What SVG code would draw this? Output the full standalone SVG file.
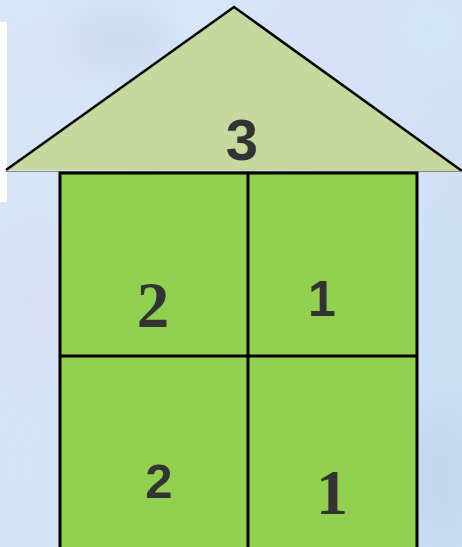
<svg xmlns="http://www.w3.org/2000/svg" width="462" height="547" viewBox="0 0 462 547">
<style>
.ln{stroke:#000;stroke-width:3;fill:none}
.sans{font-family:"Liberation Sans",Arial,sans-serif;font-weight:bold;fill:#333;text-anchor:middle}
.serif{font-family:"Liberation Serif","Times New Roman",serif;font-weight:bold;fill:#333;text-anchor:middle}
</style>
<defs>
<linearGradient id="bg" x1="0" y1="0" x2="1" y2="1">
<stop offset="0" stop-color="#d6e6f8"/>
<stop offset="0.5" stop-color="#d4e2f6"/>
<stop offset="1" stop-color="#c8dcf2"/>
</linearGradient>
<filter id="blur" x="-50%" y="-50%" width="200%" height="200%"><feGaussianBlur stdDeviation="18"/></filter>
</defs>
<g id="background">
<rect width="462" height="547" fill="url(#bg)"/>
<g filter="url(#blur)" opacity="0.6">
<ellipse cx="40" cy="60" rx="40" ry="30" fill="#dde0f8"/>
<ellipse cx="120" cy="40" rx="50" ry="25" fill="#c4d0e8"/>
<ellipse cx="200" cy="20" rx="40" ry="20" fill="#d8ecfa"/>
<ellipse cx="330" cy="40" rx="60" ry="30" fill="#dcdcf6"/>
<ellipse cx="430" cy="30" rx="40" ry="30" fill="#d0e8f8"/>
<ellipse cx="30" cy="300" rx="30" ry="80" fill="#d8dcf6"/>
<ellipse cx="440" cy="300" rx="25" ry="90" fill="#c8e2f6"/>
<ellipse cx="440" cy="470" rx="25" ry="70" fill="#bcd4ee"/>
<ellipse cx="30" cy="470" rx="30" ry="70" fill="#d4e4f8"/>
</g>
<rect x="0" y="22" width="7" height="180" fill="#fff"/>
</g>
<g id="roof">
<polygon points="6,170 234,7 462,171" fill="#c6d89e"/>
<polyline points="6,170 234,7 462,171" stroke="#000" stroke-width="2.5" fill="none"/>
<line x1="6" y1="171.5" x2="462" y2="171.5" stroke="#8a8a8a" stroke-width="1"/>
<text class="sans" x="242" y="160" font-size="58">3</text>
</g>
<g id="body">
<rect x="60" y="173" width="357" height="380" fill="#92d050"/>
<rect x="60" y="173" width="357" height="380" class="ln"/>
</g>
<g id="connectors">
<line x1="248" y1="173" x2="248" y2="547" class="ln"/>
<line x1="60" y1="356" x2="417" y2="356" class="ln"/>
</g>
<g id="cell-top-left"><text class="serif" x="153" y="327" font-size="65">2</text></g>
<g id="cell-top-right"><text class="sans" x="322" y="316" font-size="50">1</text></g>
<g id="cell-bottom-left"><text class="sans" x="159" y="498" font-size="49">2</text></g>
<g id="cell-bottom-right"><text class="serif" x="332" y="514" font-size="64">1</text></g>
</svg>
